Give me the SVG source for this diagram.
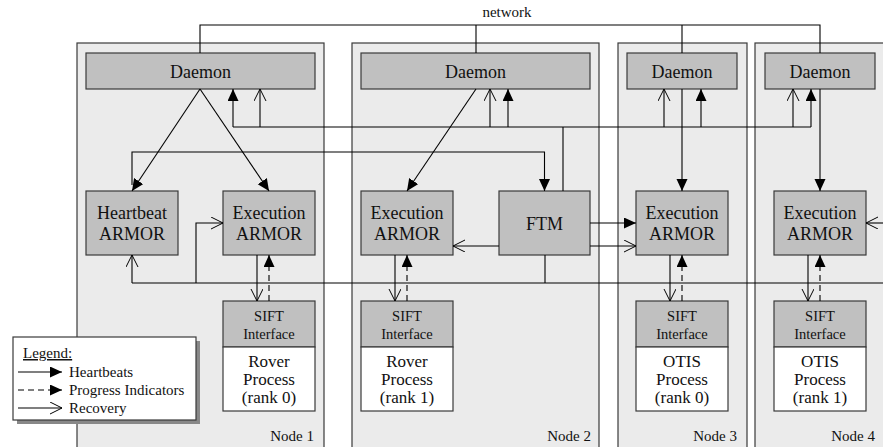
<svg xmlns="http://www.w3.org/2000/svg" width="883" height="447" viewBox="0 0 883 447">
<defs>
<marker id="fill" markerUnits="userSpaceOnUse" markerWidth="14" markerHeight="12" refX="12" refY="5.5" orient="auto">
<path d="M0,0 L12,5.5 L0,11 z" fill="#000"/>
</marker>
<marker id="open" markerUnits="userSpaceOnUse" markerWidth="14" markerHeight="14" refX="12" refY="6" orient="auto">
<path d="M0,0 L12,6 L0,12" fill="none" stroke="#000" stroke-width="1"/>
</marker>
</defs>
<style>
.node{fill:#ebebeb;stroke:#3a3a3a;stroke-width:1.2}
.box{fill:#c0c0c0;stroke:#3a3a3a;stroke-width:1.2}
.wbox{fill:#fff;stroke:#3a3a3a;stroke-width:1.2}
.t{font-family:"Liberation Serif","Times New Roman",serif;fill:#111;text-anchor:middle}
.t18{font-size:18px}
.t17{font-size:17px}
.t15{font-size:15px}
.t14{font-size:14.5px}
.lbl{font-family:"Liberation Serif","Times New Roman",serif;font-size:15px;fill:#111;text-anchor:end}
.lg{font-family:"Liberation Serif","Times New Roman",serif;font-size:15px;fill:#111}
.c{fill:none;stroke:#000;stroke-width:1.1}
.hb{marker-end:url(#fill)}
.rc{marker-end:url(#open)}
.dash{stroke-dasharray:6,4}
</style>
<rect width="883" height="447" fill="#fff"/>

<g id="node1"><rect class="node" x="77" y="43" width="247" height="420"/><text class="lbl" x="314" y="441">Node 1</text></g>
<g id="node2"><rect class="node" x="352" y="43" width="247" height="420"/><text class="lbl" x="591" y="441">Node 2</text></g>
<g id="node3"><rect class="node" x="618" y="43" width="129" height="420"/><text class="lbl" x="737" y="441">Node 3</text></g>
<g id="node4"><rect class="node" x="755" y="43" width="150" height="420"/><text class="lbl" x="875" y="441">Node 4</text></g>

<g id="daemon1"><rect class="box" x="86" y="53" width="229" height="36"/><text class="t t18" x="200.5" y="78">Daemon</text></g>
<g id="daemon2"><rect class="box" x="361" y="53" width="229" height="36"/><text class="t t18" x="475.5" y="78">Daemon</text></g>
<g id="daemon3"><rect class="box" x="627" y="53" width="110" height="36"/><text class="t t18" x="682" y="78">Daemon</text></g>
<g id="daemon4"><rect class="box" x="765" y="53" width="110" height="36"/><text class="t t18" x="820" y="78">Daemon</text></g>

<g id="heartbeat-armor"><rect class="box" x="86" y="191" width="92" height="64"/><text class="t t18"><tspan x="132" y="219">Heartbeat</tspan><tspan x="132" y="240">ARMOR</tspan></text></g>
<g id="exec-armor1"><rect class="box" x="223" y="191" width="92" height="64"/><text class="t t18"><tspan x="269" y="219">Execution</tspan><tspan x="269" y="240">ARMOR</tspan></text></g>
<g id="exec-armor2"><rect class="box" x="361" y="191" width="92" height="64"/><text class="t t18"><tspan x="407" y="219">Execution</tspan><tspan x="407" y="240">ARMOR</tspan></text></g>
<g id="ftm"><rect class="box" x="499" y="191" width="91" height="64"/><text class="t t18" x="544.5" y="230">FTM</text></g>
<g id="exec-armor3"><rect class="box" x="636" y="191" width="92" height="64"/><text class="t t18"><tspan x="682" y="219">Execution</tspan><tspan x="682" y="240">ARMOR</tspan></text></g>
<g id="exec-armor4"><rect class="box" x="774" y="191" width="92" height="64"/><text class="t t18"><tspan x="820" y="219">Execution</tspan><tspan x="820" y="240">ARMOR</tspan></text></g>

<g id="rover0"><rect class="box" x="223" y="301" width="92" height="46"/><rect class="wbox" x="223" y="347" width="92" height="64"/><text class="t t14"><tspan x="269" y="321">SIFT</tspan><tspan x="269" y="339">Interface</tspan></text><text class="t t17"><tspan x="269" y="367">Rover</tspan><tspan x="269" y="385">Process</tspan><tspan x="269" y="403">(rank 0)</tspan></text></g>
<g id="rover1"><rect class="box" x="361" y="301" width="92" height="46"/><rect class="wbox" x="361" y="347" width="92" height="64"/><text class="t t14"><tspan x="407" y="321">SIFT</tspan><tspan x="407" y="339">Interface</tspan></text><text class="t t17"><tspan x="407" y="367">Rover</tspan><tspan x="407" y="385">Process</tspan><tspan x="407" y="403">(rank 1)</tspan></text></g>
<g id="otis0"><rect class="box" x="636" y="301" width="92" height="46"/><rect class="wbox" x="636" y="347" width="92" height="64"/><text class="t t14"><tspan x="682" y="321">SIFT</tspan><tspan x="682" y="339">Interface</tspan></text><text class="t t17"><tspan x="682" y="367">OTIS</tspan><tspan x="682" y="385">Process</tspan><tspan x="682" y="403">(rank 0)</tspan></text></g>
<g id="otis1"><rect class="box" x="774" y="301" width="92" height="46"/><rect class="wbox" x="774" y="347" width="92" height="64"/><text class="t t14"><tspan x="820" y="321">SIFT</tspan><tspan x="820" y="339">Interface</tspan></text><text class="t t17"><tspan x="820" y="367">OTIS</tspan><tspan x="820" y="385">Process</tspan><tspan x="820" y="403">(rank 1)</tspan></text></g>

<g id="connectors">
<path class="c" d="M200,53 V25 H820 V53 M476,25 V53 M682,25 V53"/>
<text class="t t15" x="507" y="17">network</text>
<line class="c hb" x1="200" y1="89" x2="132" y2="191"/>
<line class="c hb" x1="200" y1="89" x2="269" y2="191"/>
<line class="c hb" x1="476" y1="89" x2="407" y2="191"/>
<line class="c hb" x1="682" y1="89" x2="682" y2="191"/>
<line class="c hb" x1="820" y1="89" x2="820" y2="191"/>
<path class="c" d="M233,127 H811 M563,191 V127"/>
<line class="c hb" x1="233" y1="127" x2="233" y2="89"/>
<line class="c rc" x1="260" y1="127" x2="260" y2="89"/>
<line class="c rc" x1="490" y1="127" x2="490" y2="89"/>
<line class="c hb" x1="508" y1="127" x2="508" y2="89"/>
<line class="c rc" x1="664" y1="127" x2="664" y2="89"/>
<line class="c hb" x1="701" y1="127" x2="701" y2="89"/>
<line class="c rc" x1="793" y1="127" x2="793" y2="89"/>
<line class="c hb" x1="811" y1="127" x2="811" y2="89"/>
<path class="c hb" d="M132,185 V152 H544.5 V191"/>
<line class="c hb" x1="590" y1="223" x2="636" y2="223"/>
<line class="c rc" x1="590" y1="246" x2="636" y2="246"/>
<line class="c rc" x1="499" y1="246" x2="453" y2="246"/>
<path class="c" d="M545,255 V283 M132,283 H883"/>
<line class="c rc" x1="132" y1="283" x2="132" y2="255"/>
<path class="c rc" d="M196,283 V223 H223"/>
<line class="c rc" x1="883" y1="223" x2="866" y2="223"/>
<line class="c rc" x1="257" y1="255" x2="257" y2="301"/>
<line class="c hb dash" x1="269" y1="301" x2="269" y2="255"/>
<line class="c rc" x1="395" y1="255" x2="395" y2="301"/>
<line class="c hb dash" x1="407" y1="301" x2="407" y2="255"/>
<line class="c rc" x1="670" y1="255" x2="670" y2="301"/>
<line class="c hb dash" x1="682" y1="301" x2="682" y2="255"/>
<line class="c rc" x1="808" y1="255" x2="808" y2="301"/>
<line class="c hb dash" x1="820" y1="301" x2="820" y2="255"/>
</g>

<g id="legend">
<rect x="17" y="341" width="183" height="83" fill="#888"/>
<rect x="13" y="337" width="183" height="83" fill="#fff" stroke="#3a3a3a" stroke-width="1.2"/>
<text class="lg" x="23" y="358" text-decoration="underline">Legend:</text>
<line class="c hb" x1="18" y1="372" x2="62" y2="372"/>
<line class="c hb dash" x1="18" y1="390" x2="62" y2="390"/>
<line class="c rc" x1="18" y1="408" x2="62" y2="408"/>
<text class="lg"><tspan x="69" y="377">Heartbeats</tspan><tspan x="69" y="395">Progress Indicators</tspan><tspan x="69" y="413">Recovery</tspan></text>
</g>
</svg>
